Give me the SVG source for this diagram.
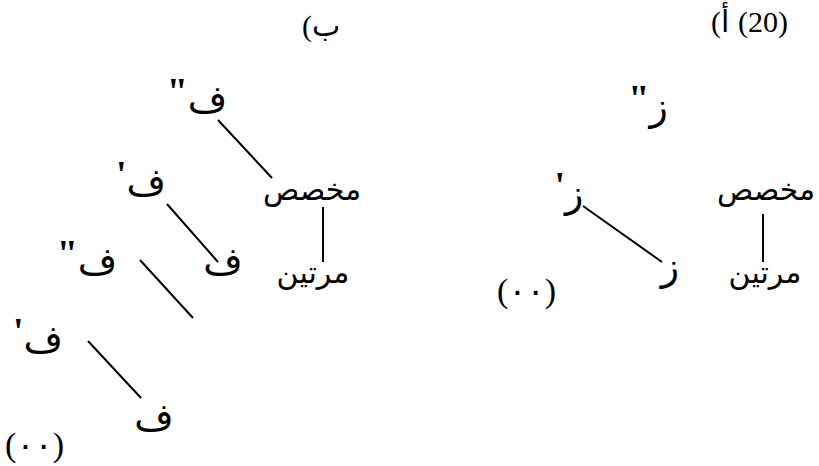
<svg xmlns="http://www.w3.org/2000/svg" width="819" height="466" viewBox="0 0 819 466">
<style>
text{font-family:"Liberation Serif","DejaVu Sans",serif;fill:#000}
.ar{font-size:30px;direction:rtl;unicode-bidi:embed;text-anchor:middle}
.big{font-size:38px}
.q{font-weight:bold}
.lt{font-size:30px}
.dt{font-size:34px}
.ln{stroke:#000;stroke-width:2;fill:none}
</style>
<rect width="819" height="466" fill="#fff"/>
<g id="connectors">
<line class="ln" x1="218" y1="120" x2="272" y2="178"/>
<line class="ln" x1="323" y1="207" x2="323" y2="262"/>
<line class="ln" x1="167" y1="204" x2="218" y2="262"/>
<line class="ln" x1="140" y1="260" x2="193" y2="318"/>
<line class="ln" x1="88" y1="341" x2="141" y2="398"/>
<line class="ln" x1="583" y1="206" x2="662" y2="262"/>
<line class="ln" x1="763" y1="214" x2="763" y2="262"/>
</g>
<g id="label-a"><text class="lt" x="711" y="32">(</text><text class="lt" x="721" y="32">أ</text><text class="lt" x="738" y="32">(20)</text></g>
<g id="label-b"><text class="lt" x="302" y="36">(</text><text class="lt" x="312" y="36">ب</text></g>
<g id="r-z2"><text class="ar big" x="648" y="120">ز<tspan class="q" dy="-9">"</tspan></text></g>
<g id="r-mukh"><text class="ar" x="766" y="200">مخصص</text></g>
<g id="r-mart"><text class="ar" x="765" y="283">مرتين</text></g>
<g id="r-z1"><text class="ar big" x="569" y="207">ز<tspan class="q" dy="-9">'</tspan></text></g>
<g id="r-z0"><text class="ar big" x="670" y="280">ز</text></g>
<g id="r-dots"><text class="dt" x="497" y="302">(٠٠)</text></g>
<g id="l-f2"><text class="ar big" x="197" y="112">ف<tspan class="q" dy="-8">"</tspan></text></g>
<g id="l-mukh"><text class="ar" x="312" y="200">مخصص</text></g>
<g id="l-mart"><text class="ar" x="313" y="283">مرتين</text></g>
<g id="l-f1"><text class="ar big" x="141" y="195">ف<tspan class="q" dy="-8">'</tspan></text></g>
<g id="l-f0"><text class="ar big" x="223" y="274">ف</text></g>
<g id="l-f2b"><text class="ar big" x="87" y="274">ف<tspan class="q" dy="-8">"</tspan></text></g>
<g id="l-f1b"><text class="ar big" x="38" y="352">ف<tspan class="q" dy="-8">'</tspan></text></g>
<g id="l-f0b"><text class="ar big" x="154" y="430">ف</text></g>
<g id="l-dots"><text class="dt" x="5" y="456">(٠٠)</text></g>
</svg>
